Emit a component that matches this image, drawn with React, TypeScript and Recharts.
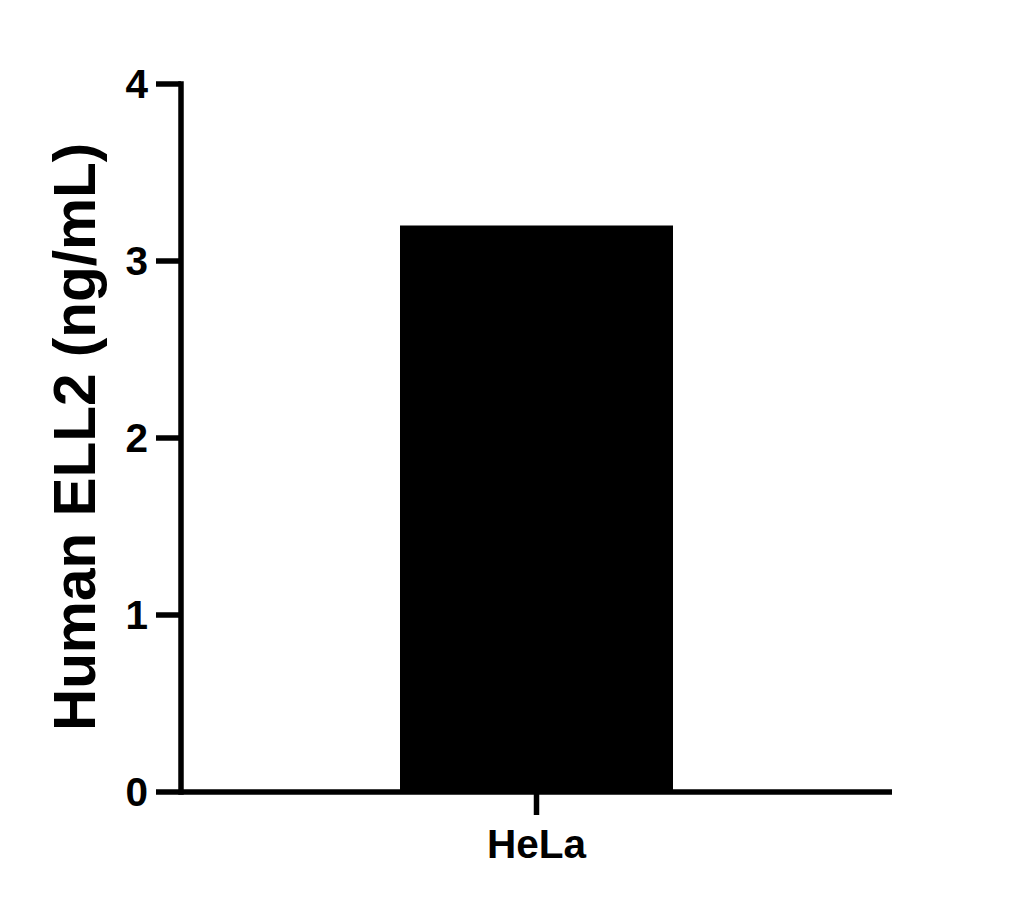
import React from 'react';
import { BarChart, Bar, XAxis, YAxis } from 'recharts';

const categories = ['HeLa'];
const values = [3.2];
const yTicks = [0, 1, 2, 3, 4];
const yLabel = 'Human ELL2 (ng/mL)';

const data = categories.map((name, i) => ({ name, value: values[i] }));

const FONT = '"Liberation Sans", Arial, sans-serif';

const YLabel = () => (
  <text
    x={95}
    y={437}
    transform="rotate(-90, 95, 437)"
    textAnchor="middle"
    fontFamily={FONT}
    fontWeight="bold"
    fontSize={58.5}
    fill="#000"
  >
    {yLabel}
  </text>
);

const App: React.FC = () => {
  return (
    <div style={{ position: 'absolute', left: 0, top: 0, background: '#fff' }}>
      <BarChart
        width={1023}
        height={909}
        data={data}
        margin={{ top: 84, right: 131, bottom: 37, left: 21 }}
        barSize={273}
      >
        <XAxis
          dataKey="name"
          axisLine={{ stroke: '#000', strokeWidth: 5.5 }}
          tickLine={{ stroke: '#000', strokeWidth: 5.5 }}
          tickSize={23}
          tickMargin={14}
          tick={{ fill: '#000', fontSize: 40.5, fontWeight: 'bold', fontFamily: FONT }}
          height={80}
        />
        <YAxis
          domain={[0, 4]}
          ticks={yTicks}
          width={160}
          axisLine={{ stroke: '#000', strokeWidth: 5.5, strokeLinecap: 'square' }}
          tickLine={{ stroke: '#000', strokeWidth: 5.5 }}
          tickSize={25}
          tickMargin={8}
          tick={{ fill: '#000', fontSize: 40.5, fontWeight: 'bold', fontFamily: FONT }}
          label={<YLabel />}
        />
        <Bar dataKey="value" fill="#000" isAnimationActive={false} />
      </BarChart>
    </div>
  );
};

export default App;
